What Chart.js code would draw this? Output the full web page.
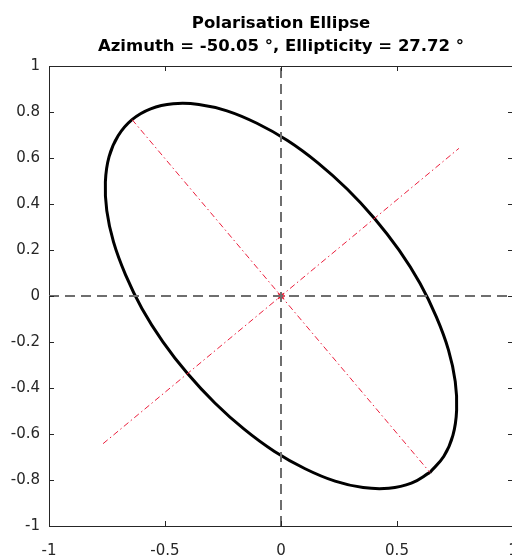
<!DOCTYPE html>
<html>
<head>
<meta charset="utf-8">
<script src="https://cdn.jsdelivr.net/npm/chart.js@4/dist/chart.umd.min.js"></script>
<style>
    html, body { margin: 0; padding: 0; background: #fff; overflow: hidden; }
    #grafico { display: block; }
</style>
</head>
<body>
<canvas id="grafico" width="562" height="557"></canvas>
<script>
// ellipse outline (every 10 degrees round the curve)
const elipseX = [0.642, 0.702, 0.741, 0.757, 0.751, 0.722, 0.670, 0.599, 0.509, 0.403, 0.285, 0.159,
    0.028, -0.104, -0.233, -0.354, -0.465, -0.562, -0.642, -0.702, -0.741, -0.757, -0.751, -0.722,
    -0.670, -0.599, -0.509, -0.403, -0.285, -0.159, -0.028, 0.104, 0.233, 0.354, 0.465, 0.562, 0.642]
const elipseY = [-0.767, -0.697, -0.606, -0.496, -0.371, -0.235, -0.092, 0.055, 0.199, 0.337, 0.465, 0.579,
    0.676, 0.751, 0.805, 0.833, 0.836, 0.814, 0.767, 0.697, 0.606, 0.496, 0.371, 0.235,
    0.092, -0.055, -0.199, -0.337, -0.465, -0.579, -0.676, -0.751, -0.805, -0.833, -0.836, -0.814, -0.767]

// red dash-dot axes of the ellipse
const ejeMayorX = [-0.642, 0.642]
const ejeMayorY = [0.767, -0.767]
const ejeMenorX = [-0.767, 0.767]
const ejeMenorY = [-0.642, 0.642]

// gray dashed cross through the origin
const cruzHX = [-1, 1]
const cruzHY = [0, 0]
const cruzVX = [0, 0]
const cruzVY = [-1, 1]

const xTicks = [-1, -0.5, 0, 0.5, 1]
const yTicks = [-1, -0.8, -0.6, -0.4, -0.2, 0, 0.2, 0.4, 0.6, 0.8, 1]
const xTickLabels = ['-1', '-0.5', '0', '0.5', '1']
const yTickLabels = ['-1', '-0.8', '-0.6', '-0.4', '-0.2', '0', '0.2', '0.4', '0.6', '0.8', '1']

const titulo = ['Polarisation Ellipse', 'Azimuth = -50.05 °, Ellipticity = 27.72 °']

function puntos(xs, ys) {
    return xs.map((x, i) => ({ x: x, y: ys[i] }))
}

const colorEje = '#262626'
const fuente = 'DejaVu Sans, Verdana, sans-serif'

// box on top/right and inward ticks, drawn from the scales
const marcoPlugin = {
    id: 'marco',
    afterDatasetsDraw(chart) {
        const ctx = chart.ctx
        const a = chart.chartArea
        const sx = chart.scales.x
        const sy = chart.scales.y
        ctx.save()
        ctx.strokeStyle = colorEje
        ctx.lineWidth = 1
        ctx.beginPath()
        ctx.moveTo(a.left, a.top + 0.5)
        ctx.lineTo(a.right, a.top + 0.5)
        ctx.moveTo(a.right - 0.5, a.top)
        ctx.lineTo(a.right - 0.5, a.bottom)
        const largo = 5
        xTicks.forEach(v => {
            const px = Math.round(sx.getPixelForValue(v)) + 0.5
            ctx.moveTo(px, a.bottom)
            ctx.lineTo(px, a.bottom - largo)
            ctx.moveTo(px, a.top)
            ctx.lineTo(px, a.top + largo)
        })
        yTicks.forEach(v => {
            const py = Math.round(sy.getPixelForValue(v)) + 0.5
            ctx.moveTo(a.left, py)
            ctx.lineTo(a.left + largo, py)
            ctx.moveTo(a.right, py)
            ctx.lineTo(a.right - largo, py)
        })
        ctx.stroke()
        ctx.restore()
    }
}

const ctx = document.getElementById('grafico').getContext('2d')
const grafico = new Chart(ctx, {
    type: 'scatter',
    data: {
        datasets: [
            {
                data: puntos(cruzHX, cruzHY),
                showLine: true, borderColor: '#6e6e6e', borderWidth: 2,
                borderDash: [10, 6], pointRadius: 0
            },
            {
                data: puntos(cruzVX, cruzVY),
                showLine: true, borderColor: '#6e6e6e', borderWidth: 2,
                borderDash: [10, 6], pointRadius: 0
            },
            {
                data: puntos(ejeMayorX, ejeMayorY),
                showLine: true, borderColor: 'rgb(235, 30, 60)', borderWidth: 1,
                borderDash: [6, 3, 1.5, 3], pointRadius: 0
            },
            {
                data: puntos(ejeMenorX, ejeMenorY),
                showLine: true, borderColor: 'rgb(235, 30, 60)', borderWidth: 1,
                borderDash: [6, 3, 1.5, 3], pointRadius: 0
            },
            {
                data: puntos(elipseX, elipseY),
                showLine: true, borderColor: '#000', borderWidth: 3,
                tension: 0.4, pointRadius: 0
            },
            {
                data: [{ x: 0, y: 0 }],
                pointStyle: 'star', pointRadius: 4, borderWidth: 1.5,
                borderColor: 'rgb(220, 20, 40)', backgroundColor: 'rgb(220, 20, 40)'
            }
        ]
    },
    options: {
        responsive: false,
        animation: false,
        layout: { padding: 0 },
        plugins: {
            legend: { display: false },
            tooltip: { enabled: false },
            title: {
                display: true,
                text: titulo,
                color: '#000',
                font: { family: fuente, size: 16.5, weight: 'bold', lineHeight: '23px' },
                padding: { top: 12, bottom: 8 }
            }
        },
        scales: {
            x: {
                type: 'linear', min: -1, max: 1,
                afterBuildTicks: s => { s.ticks = xTicks.map(v => ({ value: v })) },
                afterFit: s => { s.height = 31; s.paddingRight = 49 },
                grid: { display: false, drawTicks: false },
                border: { display: true, color: colorEje, width: 1 },
                ticks: {
                    color: colorEje, padding: 16,
                    font: { family: fuente, size: 15 },
                    callback: (v, i) => xTickLabels[i]
                }
            },
            y: {
                type: 'linear', min: -1, max: 1,
                afterBuildTicks: s => { s.ticks = yTicks.map(v => ({ value: v })) },
                afterFit: s => { s.width = 49 },
                grid: { display: false, drawTicks: false },
                border: { display: true, color: colorEje, width: 1 },
                ticks: {
                    color: colorEje, padding: 9,
                    font: { family: fuente, size: 15 },
                    callback: (v, i) => yTickLabels[i]
                }
            }
        }
    },
    plugins: [marcoPlugin]
})
</script>
</body>
</html>
